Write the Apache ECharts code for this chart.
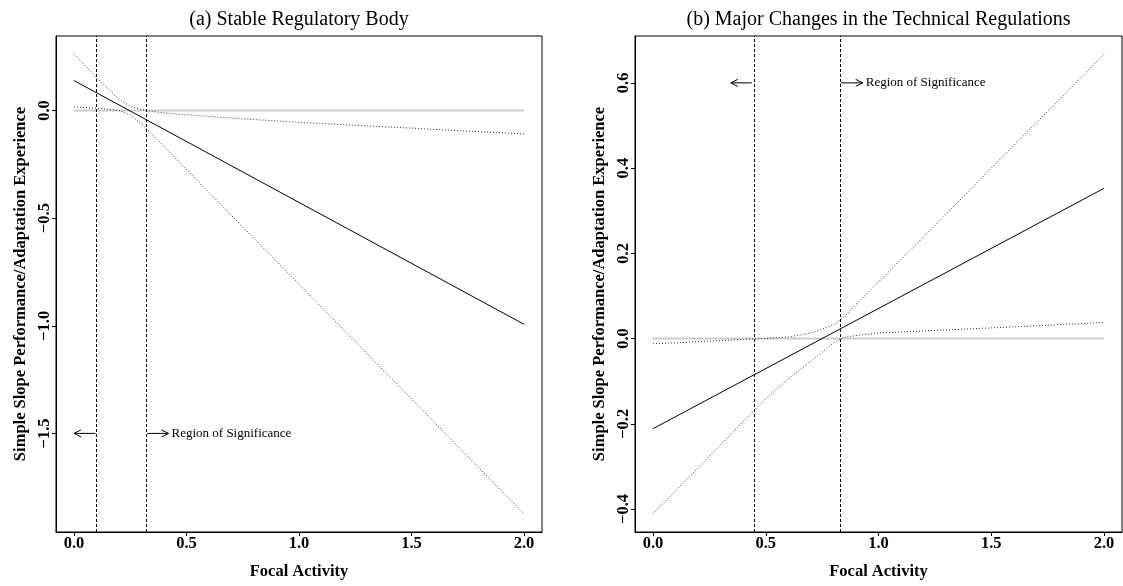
<!DOCTYPE html>
<html>
<head>
<meta charset="utf-8">
<script src="https://cdn.jsdelivr.net/npm/echarts@6/dist/echarts.min.js"></script>
<style>
  html, body { margin: 0; padding: 0; background: #fff; }
  #chart { width: 1123px; height: 586px; }
</style>
</head>
<body>
<div id="chart"></div>
<script>
// panel titles and axis titles
const titleA = '(a) Stable Regulatory Body'
const titleB = '(b) Major Changes in the Technical Regulations'
const xTitle = 'Focal Activity'
const yTitle = 'Simple Slope Performance/Adaptation Experience'
const sigText = 'Region of Significance'

// tick values
const xTicks = [0, 0.5, 1, 1.5, 2]
const yTicksA = [-1.5, -1, -0.5, 0]
const yTicksB = [-0.4, -0.2, 0, 0.2, 0.4, 0.6]

// (a) simple slope line + confidence bands
const slopeXA = [0, 2]
const slopeA = [0.139, -0.993]
const bandXA = [0, 0.05, 0.1, 0.15, 0.2, 0.25, 0.3, 0.35, 0.4, 0.5, 0.6, 0.8, 1.0, 1.25, 1.5, 1.75, 2.0]
const upperA = [0.261, 0.208, 0.154, 0.102, 0.052, 0.019, 0.004, -0.005, -0.011, -0.020, -0.028, -0.042, -0.055, -0.069, -0.082, -0.096, -0.109]
const lowerA = [0.017, 0.014, 0.010, 0.006, 0.000, -0.020, -0.063, -0.114, -0.167, -0.274, -0.381, -0.594, -0.807, -1.074, -1.340, -1.607, -1.873]
const boundsA = [0.104, 0.318] // region of significance limits
const arrowsA = [[0.095, 0.0, -1.5], [0.326, 0.42, -1.5]] // x from, x to, y

// (b)
const slopeXB = [0, 2]
const slopeB = [-0.2115, 0.3525]
const bandXB = [0, 0.1, 0.2, 0.3, 0.4, 0.5, 0.6, 0.65, 0.7, 0.75, 0.8, 0.85, 0.9, 0.95, 1.0, 1.25, 1.5, 1.75, 2.0]
const upperB = [-0.012, -0.010, -0.007, -0.005, -0.002, 0.000, 0.004, 0.008, 0.013, 0.022, 0.032, 0.052, 0.080, 0.106, 0.133, 0.265, 0.400, 0.533, 0.667]
const lowerB = [-0.411, -0.357, -0.303, -0.249, -0.195, -0.141, -0.095, -0.074, -0.053, -0.032, -0.010, 0.003, 0.007, 0.010, 0.013, 0.019, 0.025, 0.031, 0.038]
const boundsB = [0.45, 0.832]
const arrowsB = [[0.438, 0.345, 0.6], [0.833, 0.93, 0.6]]

// zero reference line
const zeroX = [0, 2]
const zeroY = [0, 0]

const FONT = '"Liberation Serif", "Times New Roman", serif'

const pairs = (xs, ys) => xs.map((x, i) => [x, ys[i]])
const fmt = v => (v < 0 ? '\u2212' : '') + Math.abs(v).toFixed(1)

function arrowItem (params, api) {
  const p0 = api.coord([api.value(0), api.value(2)])
  const p1 = api.coord([api.value(1), api.value(2)])
  const dir = Math.sign(p1[0] - p0[0])
  const L = 7
  const W = 3.5
  const children = [
    { type: 'line', shape: { x1: p0[0], y1: p0[1], x2: p1[0], y2: p1[1] }, style: { stroke: '#000', lineWidth: 1 } },
    { type: 'polyline', shape: { points: [[p1[0] - dir * L, p1[1] - W], [p1[0], p1[1]], [p1[0] - dir * L, p1[1] + W]] }, style: { stroke: '#000', fill: null, lineWidth: 1 } }
  ]
  if (dir > 0) {
    children.push({
      type: 'text',
      x: p1[0] + 3,
      y: p1[1],
      style: { text: sigText, fill: '#000', fontSize: 13, fontFamily: FONT, align: 'left', verticalAlign: 'middle' }
    })
  }
  return { type: 'group', children: children }
}

function xAxisFor (idx) {
  return {
    type: 'value',
    gridIndex: idx,
    min: -0.08,
    max: 2.08,
    name: xTitle,
    nameLocation: 'middle',
    nameGap: 31,
    nameTextStyle: { fontFamily: FONT, fontWeight: 'bold', fontSize: 16.5, color: '#000' },
    axisLine: { show: true, onZero: false, lineStyle: { color: '#000', width: 1 } },
    axisTick: { show: true, length: 4, customValues: xTicks, lineStyle: { color: '#000' } },
    axisLabel: { customValues: xTicks, formatter: fmt, margin: 3, fontFamily: FONT, fontWeight: 'bold', fontSize: 16.5, color: '#000' },
    splitLine: { show: false }
  }
}

function yAxisFor (idx, min, max, ticks) {
  return {
    type: 'value',
    gridIndex: idx,
    min: min,
    max: max,
    name: yTitle,
    nameLocation: 'middle',
    nameGap: 27,
    nameTextStyle: { fontFamily: FONT, fontWeight: 'bold', fontSize: 16.5, color: '#000' },
    axisLine: { show: true, onZero: false, lineStyle: { color: '#000', width: 1 } },
    axisTick: { show: true, length: 4, customValues: ticks, lineStyle: { color: '#000' } },
    axisLabel: { customValues: ticks, formatter: fmt, rotate: 90, margin: 3, fontFamily: FONT, fontWeight: 'bold', fontSize: 16.5, color: '#000' },
    splitLine: { show: false }
  }
}

function panelSeries (idx, bandX, upper, lower, slopeX, slope, bounds, arrows) {
  const base = { xAxisIndex: idx, yAxisIndex: idx, symbol: 'none', silent: true, animation: false }
  return [
    Object.assign({}, base, {
      type: 'line',
      data: pairs(zeroX, zeroY),
      lineStyle: { color: '#cdcdcd', width: 2 },
      z: 1,
      markLine: {
        silent: true,
        symbol: ['none', 'none'],
        label: { show: false },
        lineStyle: { color: '#000', width: 1, type: [3, 2] },
        data: bounds.map(b => ({ xAxis: b }))
      }
    }),
    Object.assign({}, base, {
      type: 'line',
      data: pairs(bandX, upper),
      lineStyle: { color: '#333', width: 1, type: [1, 2] },
      z: 2
    }),
    Object.assign({}, base, {
      type: 'line',
      data: pairs(bandX, lower),
      lineStyle: { color: '#333', width: 1, type: [1, 2] },
      z: 2
    }),
    Object.assign({}, base, {
      type: 'line',
      data: pairs(slopeX, slope),
      lineStyle: { color: '#000', width: 1 },
      z: 3
    }),
    {
      type: 'custom',
      xAxisIndex: idx,
      yAxisIndex: idx,
      silent: true,
      animation: false,
      clip: false,
      renderItem: arrowItem,
      data: arrows,
      z: 4
    }
  ]
}

const chart = echarts.init(document.getElementById('chart'), null, { renderer: 'canvas' })
chart.setOption({
  backgroundColor: '#fff',
  animation: false,
  textStyle: { fontFamily: FONT },
  graphic: [
    { type: 'text', x: 299, y: 20, style: { text: titleA, fontFamily: FONT, fontSize: 20, fill: '#000', align: 'center', verticalAlign: 'middle' } },
    { type: 'text', x: 878.5, y: 20, style: { text: titleB, fontFamily: FONT, fontSize: 20, fill: '#000', align: 'center', verticalAlign: 'middle' } }
  ],
  grid: [
    { left: 56, right: 581, top: 36, bottom: 54, show: true, borderColor: '#000', borderWidth: 1, backgroundColor: 'transparent' },
    { left: 635, right: 1, top: 36, bottom: 54, show: true, borderColor: '#000', borderWidth: 1, backgroundColor: 'transparent' }
  ],
  xAxis: [xAxisFor(0), xAxisFor(1)],
  yAxis: [
    yAxisFor(0, -1.958, 0.346, yTicksA),
    yAxisFor(1, -0.454, 0.710, yTicksB)
  ],
  series: [].concat(
    panelSeries(0, bandXA, upperA, lowerA, slopeXA, slopeA, boundsA, arrowsA),
    panelSeries(1, bandXB, upperB, lowerB, slopeXB, slopeB, boundsB, arrowsB)
  )
})
</script>
</body>
</html>
